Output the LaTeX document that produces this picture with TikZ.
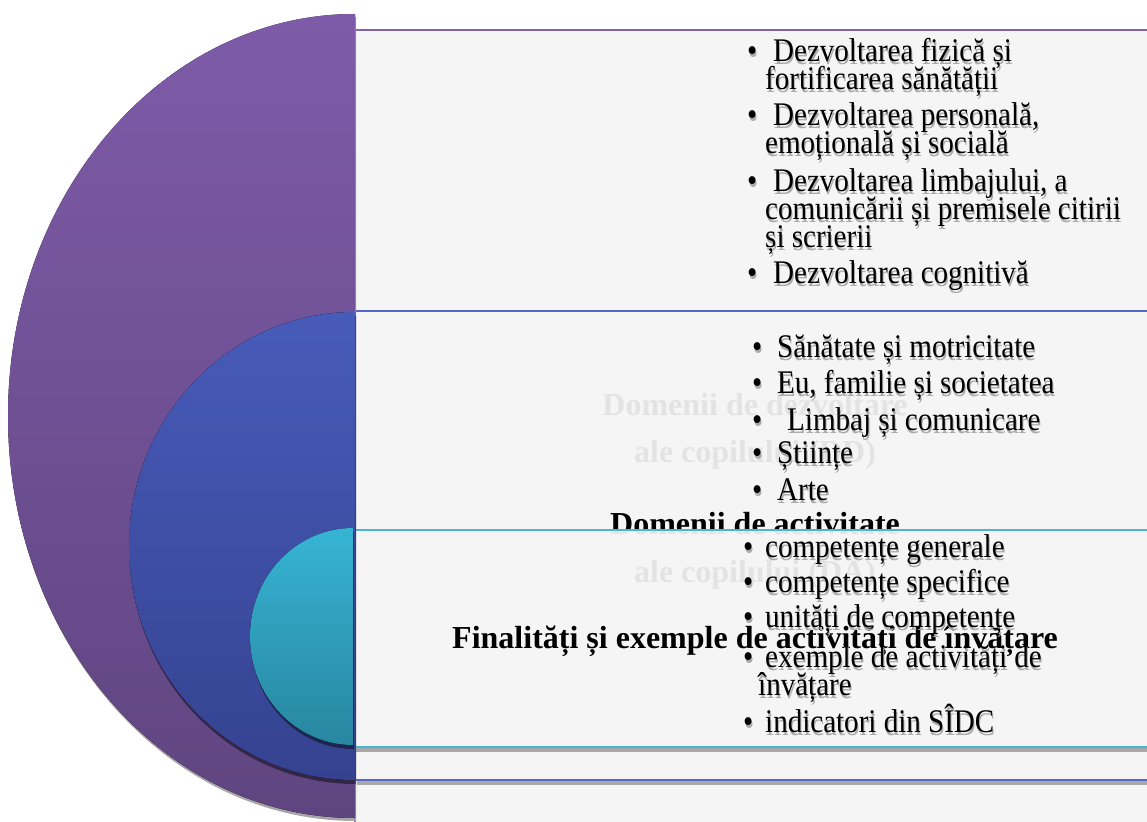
\documentclass[tikz,border=0pt]{standalone}
\usepackage{fontspec}
\setmainfont{Liberation Serif}
\newfontfamily\lfont[FakeStretch=0.88]{Liberation Serif}
\definecolor{rectfill}{HTML}{F5F5F5}
\definecolor{purpT}{HTML}{7E5BA8}
\definecolor{purpB}{HTML}{5F4580}
\definecolor{blueT}{HTML}{475BB9}
\definecolor{blueB}{HTML}{354290}
\definecolor{tealT}{HTML}{36B4D4}
\definecolor{tealB}{HTML}{2886A0}
\definecolor{purpLine}{HTML}{7F62AC}
\definecolor{blueLine}{HTML}{5468C4}
\definecolor{tealLine}{HTML}{4BB5D6}
\definecolor{shadowgray}{HTML}{ABABAB}
\definecolor{rectshadow}{HTML}{A8A8A8}
\newcommand\bul[1]{\makebox[#1pt][l]{•}}
\newcommand\ltext[4]{%
  \node[txt,text=shadowgray,xshift=1pt,yshift=-3pt] (#1s) at (#2,#3) {#4};
  \node[txt] (#1) at (#2,#3) {#4};}
\begin{document}
\begin{tikzpicture}[x=1pt,y=-1pt,
  txt/.style={inner sep=0pt, anchor=base west, font=\lfont\fontsize{33}{33}\selectfont},
  ttl/.style={inner sep=0pt, anchor=base, font=\bfseries\fontsize{32}{32}\selectfont},
  panel/.style={fill=rectfill, line width=1.5pt}]
\useasboundingbox (0,0) rectangle (1147,821);

% ---------- purple panel ----------
\path[panel, draw=purpLine] (355,30) rectangle (1170,840);
\node[ttl] (t1a) at (755,415) {Domenii de dezvoltare};
\node[ttl] (t1b) at (755,462) {ale copilului (DD)};
\ltext{a1}{747}{62}{\bul{26}Dezvoltarea fizică și}
\ltext{a1b}{765}{90}{fortificarea sănătății}
\ltext{a2}{747}{126}{\bul{26}Dezvoltarea personală,}
\ltext{a2b}{765}{154}{emoțională și socială}
\ltext{a3}{747}{191}{\bul{26}Dezvoltarea limbajului, a}
\ltext{a3b}{765}{219}{comunicării și premisele citirii}
\ltext{a3c}{765}{247}{și scrierii}
\ltext{a4}{747}{283}{\bul{26}Dezvoltarea cognitivă}

% ---------- blue panel ----------
\fill[rectshadow] (357,781) rectangle (1170,785);
\path[panel, fill opacity=0.93, draw=blueLine] (355,311) rectangle (1170,780);
\node[ttl] (t2a) at (755,534) {Domenii de activitate};
\node[ttl] (t2b) at (755,582) {ale copilului (DA)};
\ltext{b1}{752}{357}{\bul{25}Sănătate și motricitate}
\ltext{b2}{752}{393}{\bul{25}Eu, familie și societatea}
\ltext{b3}{752}{430}{\bul{35}Limbaj și comunicare}
\ltext{b4}{752}{463}{\bul{25}Științe}
\ltext{b5}{752}{500}{\bul{25}Arte}

% ---------- teal panel ----------
\fill[rectshadow] (354,748) rectangle (1170,752);
\path[panel, fill opacity=0.93, draw=tealLine] (352,530) rectangle (1170,747);
\node[ttl] (t3) at (755,648) {Finalități și exemple de activități de învățare};
\ltext{c1}{743}{557}{\bul{22}competențe generale}
\ltext{c2}{743}{592}{\bul{22}competențe specifice}
\ltext{c3}{743}{627}{\bul{22}unități de competențe}
\ltext{c4}{743}{667}{\bul{22}exemple de activități de}
\ltext{c4b}{758}{695}{învățare}
\ltext{c5}{743}{732}{\bul{22}indicatori din SÎDC}

% ---------- half discs ----------
\fill[black!35] (356,17) arc[start angle=-90,end angle=-270,x radius=347,y radius=402] -- cycle;
\fill[top color=purpT, bottom color=purpB] (355,14) arc[start angle=-90,end angle=-270,x radius=347,y radius=402] -- cycle;
\fill[black, opacity=0.45] (356,316) arc[start angle=-90,end angle=-270,x radius=226,y radius=234] -- cycle;
\fill[top color=blueT, bottom color=blueB] (355,312) arc[start angle=-90,end angle=-270,x radius=226,y radius=234] -- cycle;
\fill[black, opacity=0.45] (354,532) arc[start angle=-90,end angle=-270,x radius=103,y radius=108.5] -- cycle;
\fill[top color=tealT, bottom color=tealB] (353,528) arc[start angle=-90,end angle=-270,x radius=103,y radius=108.5] -- cycle;
\end{tikzpicture}
\end{document}
